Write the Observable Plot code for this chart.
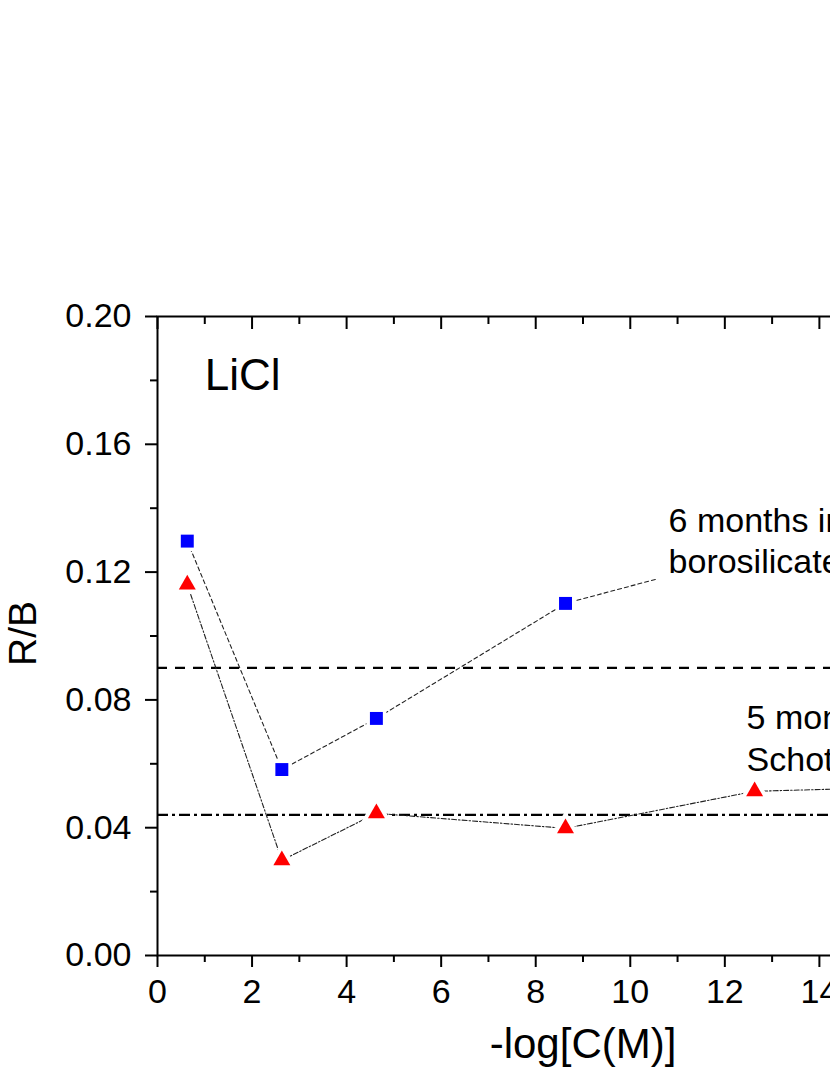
<!DOCTYPE html>
<html>
<head>
<meta charset="utf-8">
<script src="https://cdn.jsdelivr.net/npm/d3@7"></script>
<script src="https://cdn.jsdelivr.net/npm/@observablehq/plot@0.6"></script>
<style>
  html, body { margin: 0; padding: 0; background: #fff; overflow: hidden; width: 830px; height: 1075px; }
  #chart svg { max-width: none !important; width: 1030px !important; height: 1075px !important; display: block; }
</style>
</head>
<body>
<div id="chart"></div>
<script>
// ---- data ----
const logC = [0.63, 2.63, 4.63, 8.63, 12.63, 14.63];
const boroValues = [0.1297, 0.0582, 0.0742, 0.1102, 0.126];        // 6 months in borosilicate (last point sits behind its label)
const schottValues = [0.1161, 0.0298, 0.0445, 0.0398, 0.0514, 0.0522]; // 5 months in Schott (last point beyond the crop)
const boroMean = [0.09];
const schottMean = [0.044];
const xMajor = [0, 2, 4, 6, 8, 10, 12, 14, 16, 18];
const xMinor = [1, 3, 5, 7, 9, 11, 13, 15, 17];
const yMajor = [0, 0.04, 0.08, 0.12, 0.16, 0.20];
const yMinor = [0.02, 0.06, 0.10, 0.14, 0.18];
const saltLabel = ["LiCl"];
const boroLabel = ["6 months in\nborosilicate"];
const schottLabel = ["5 months in\nSchott glass"];
const xTitle = ["-log[C(M)]"];
const yTitle = ["R/B"];

const boro = boroValues.map((v, i) => ({x: logC[i], y: v}));
const schott = schottValues.map((v, i) => ({x: logC[i], y: v}));

const FONT = "'Liberation Sans', Arial, Helvetica, sans-serif";

const chart = Plot.plot({
  width: 1030,
  height: 1075,
  marginLeft: 157,
  marginRight: 22,
  marginTop: 316,
  marginBottom: 120,
  x: {domain: [0, 18]},
  y: {domain: [0, 0.2]},
  style: {fontFamily: FONT, fontSize: "34px", color: "black", background: "white", overflow: "visible", maxWidth: "none"},
  marks: [
    // reference lines
    Plot.ruleY(boroMean, {stroke: "black", strokeWidth: 2.2, strokeDasharray: "10,8"}),
    Plot.ruleY(schottMean, {stroke: "black", strokeWidth: 2.2, strokeDasharray: "11,4,3,4"}),
    // series lines
    Plot.line(boro, {x: "x", y: "y", stroke: "#222", strokeWidth: 1.1, strokeDasharray: "4,3"}),
    Plot.line(schott, {x: "x", y: "y", stroke: "#222", strokeWidth: 1.1, strokeDasharray: "5,2,1.5,2"}),
    // white gaps around markers
    Plot.dot(boro, {x: "x", y: "y", symbol: "square", r: 7.3, fill: "white", stroke: "white", strokeWidth: 7}),
    Plot.dot(schott, {x: "x", y: "y", symbol: "triangle", r: 6.3, fill: "white", stroke: "white", strokeWidth: 8}),
    // markers
    Plot.dot(boro, {x: "x", y: "y", symbol: "square", r: 7.3, fill: "#0000ff", stroke: "none"}),
    Plot.dot(schott, {x: "x", y: "y", symbol: "triangle", r: 6.3, fill: "#ff0000", stroke: "none"}),
    // annotations
    Plot.text(saltLabel, {x: 1.0, y: 0.1771, text: d => d, textAnchor: "start", lineAnchor: "bottom", fontSize: 44, fill: "black"}),
    Plot.text(boroLabel, {x: 10.81, y: 0.1196, text: d => d, textAnchor: "start", lineAnchor: "bottom", lineHeight: 1.22, fontSize: 34, fill: "black", stroke: "white", strokeWidth: 30}),
    Plot.text(schottLabel, {x: 12.46, y: 0.0579, text: d => d, textAnchor: "start", lineAnchor: "bottom", lineHeight: 1.22, fontSize: 34, fill: "black"}),
    // axis titles
    Plot.text(xTitle, {frameAnchor: "bottom", text: d => d, dy: 102, lineAnchor: "bottom", fontSize: 42, fill: "black"}),
    Plot.text(yTitle, {frameAnchor: "left", text: d => d, rotate: -90, dx: -122, dy: 30, lineAnchor: "bottom", fontSize: 39, fill: "black"}),
    // axes
    Plot.axisX(xMajor, {anchor: "bottom", tickSize: 12, tickPadding: 11, strokeWidth: 2, tickFormat: d => String(d), label: null}),
    Plot.axisX(xMinor, {anchor: "bottom", tickSize: 7, strokeWidth: 2, tickFormat: () => "", label: null}),
    Plot.axisX(xMajor, {anchor: "top", tickSize: 12, dy: 12, strokeWidth: 2, tickFormat: () => "", label: null}),
    Plot.axisX(xMinor, {anchor: "top", tickSize: 7, dy: 7, strokeWidth: 2, tickFormat: () => "", label: null}),
    Plot.axisY(yMajor, {anchor: "left", tickSize: 12, tickPadding: 14, strokeWidth: 2, tickFormat: d3.format(".2f"), label: null}),
    Plot.axisY(yMinor, {anchor: "left", tickSize: 7, strokeWidth: 2, tickFormat: () => "", label: null}),
    Plot.axisY(yMajor, {anchor: "right", tickSize: 12, dx: -12, strokeWidth: 2, tickFormat: () => "", label: null}),
    Plot.frame({stroke: "black", strokeWidth: 2})
  ]
});
document.getElementById("chart").appendChild(chart);
</script>
</body>
</html>
